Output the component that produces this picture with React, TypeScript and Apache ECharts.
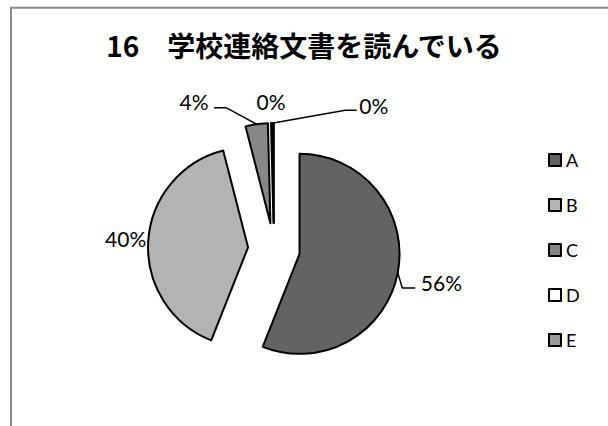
import React, { useEffect, useRef } from 'react';
import * as echarts from 'echarts';

// ---- data ----
const TITLE = '16\u3000学校連絡文書を読んでいる';
const categories = ['A', 'B', 'C', 'D', 'E'];
const values = [56.0, 40.0, 3.6, 0.2, 0.2];

// ---- styles / layout ----
const colors = ['#636363', '#b3b3b3', '#878787', '#ffffff', '#9a9a9a'];
const CX = 274;
const CY = 249;
const RADIUS = 100;
const OFFSET = 26;
const LABEL_FONT = 'Lato';
const LABEL_SIZE = 21;
// label placement relative to the outer mid-point of each exploded slice
const LABEL_LAYOUT: { align: string; dx: number; dy: number; line: number[][] | null }[] = [
  { align: 'left', dx: 23, dy: 9.5, line: [[4.5, 15.3], [17.5, 15.3]] },
  { align: 'right', dx: -2, dy: -3, line: null },
  { align: 'right', dx: -48, dy: -22.7, line: [[-30.5, -16.5], [-42.5, -16.5]] },
  { align: 'center', dx: -0.6, dy: -22, line: null },
  { align: 'left', dx: 86, dy: -18, line: [[72, -12.7], [83.5, -12.7]] },
];

function buildLabels() {
  const total = values.reduce((a, b) => a + b, 0);
  const els: any[] = [];
  let acc = 0;
  values.forEach((v, i) => {
    const start = (acc / total) * Math.PI * 2;
    acc += v;
    const end = (acc / total) * Math.PI * 2;
    const mid = (start + end) / 2;
    const ax = CX + (RADIUS + OFFSET) * Math.sin(mid);
    const ay = CY - (RADIUS + OFFSET) * Math.cos(mid);
    const lay = LABEL_LAYOUT[i];
    if (lay.line) {
      els.push({
        type: 'polyline',
        silent: true,
        shape: { points: [[ax, ay], ...lay.line.map((p) => [ax + p[0], ay + p[1]])] },
        style: { stroke: '#000', lineWidth: 1.5, fill: 'none' },
      });
    }
    els.push({
      type: 'text',
      silent: true,
      x: ax + lay.dx,
      y: ay + lay.dy,
      style: {
        text: Math.round((v / total) * 100) + '%',
        fill: '#000',
        fontSize: LABEL_SIZE,
        fontFamily: LABEL_FONT,
        align: lay.align,
        verticalAlign: 'middle',
      },
    });
  });
  return els;
}

export default function App() {
  const ref = useRef<HTMLDivElement>(null);
  useEffect(() => {
    if (!ref.current) return;
    const chart = echarts.init(ref.current, undefined, { renderer: 'svg' });
    chart.setOption({
      animation: false,
      backgroundColor: '#fff',
      title: {
        text: TITLE,
        left: 'center',
        top: 31,
        padding: 0,
        textStyle: {
          fontFamily: 'Noto Sans CJK JP',
          fontSize: 28,
          fontWeight: 'bold',
          color: '#000',
        },
      },
      legend: {
        orient: 'vertical',
        left: 548,
        top: 151,
        padding: 0,
        itemWidth: 12,
        itemHeight: 12,
        itemGap: 27,
        icon: 'rect',
        data: categories,
        itemStyle: { borderColor: '#000', borderWidth: 2 },
        textStyle: { fontFamily: LABEL_FONT, fontSize: 18, color: '#000', padding: [0, 0, 0, 0] },
        selectedMode: false,
      },
      graphic: [
        {
          type: 'rect',
          silent: true,
          shape: { x: 11, y: 7.7, width: 700, height: 500 },
          style: { fill: 'none', stroke: '#8c8c8c', lineWidth: 2 },
        },
        ...buildLabels(),
      ],
      series: [
        {
          type: 'pie',
          center: [CX, CY],
          radius: RADIUS,
          startAngle: 90,
          clockwise: true,
          selectedMode: 'multiple',
          selectedOffset: OFFSET,
          avoidLabelOverlap: false,
          label: { show: false },
          labelLine: { show: false },
          itemStyle: { borderColor: '#000', borderWidth: 2 },
          emphasis: { disabled: true },
          select: { itemStyle: { borderColor: '#000', borderWidth: 2 } },
          data: categories.map((c, i) => ({
            name: c,
            value: values[i],
            selected: true,
            itemStyle: { color: colors[i] },
          })),
        },
      ],
    });
    return () => chart.dispose();
  }, []);
  return (
    <div
      ref={ref}
      style={{ position: 'absolute', left: 0, top: 0, width: 608, height: 426 }}
    />
  );
}
